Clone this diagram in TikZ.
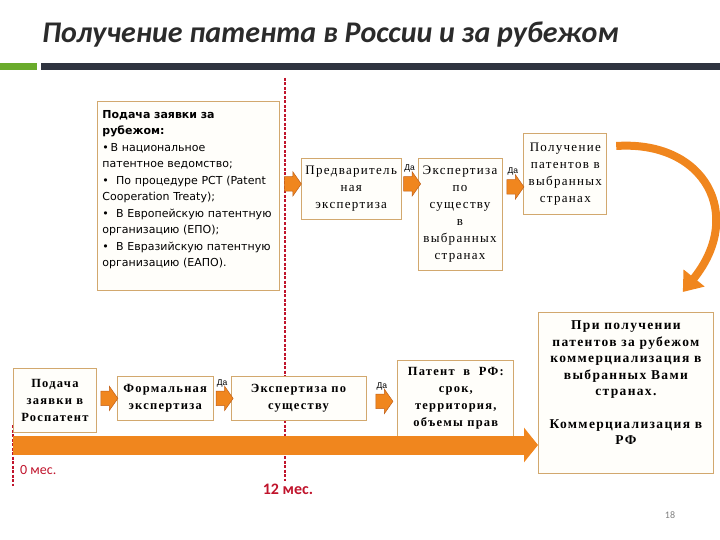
\documentclass[tikz,border=0pt]{standalone}
\usepackage{fontspec}
\setmainfont{Liberation Serif}
\newfontfamily\titlefont{Carlito}
\newfontfamily\boxsans{DejaVu Sans}
\newfontfamily\smallsans{Liberation Sans}
\newfontfamily\boxserif[LetterSpace=10]{Liberation Serif}
\usetikzlibrary{positioning,shapes.arrows,arrows.meta}

\definecolor{boxline}{HTML}{D2A86E}
\definecolor{boxfill}{HTML}{FFFEFA}
\definecolor{orangefill}{HTML}{F0861E}
\definecolor{orangeedge}{HTML}{C0601A}
\definecolor{markred}{HTML}{C0142C}
\definecolor{barblue}{HTML}{2F3440}
\definecolor{bargreen}{HTML}{6AAB2C}
\definecolor{titlegray}{HTML}{2B2B2B}

\begin{document}
\begin{tikzpicture}[
        x=1pt, y=-1pt,
        box/.style={rectangle, draw=boxline, line width=0.8pt, fill=boxfill, align=center, inner sep=2pt},
        stagebox/.style={box, font=\boxserif\fontsize{13}{17}\selectfont},
        boldbox/.style={box, font=\boxserif\fontsize{12.5}{17}\selectfont\bfseries},
        blockarrow/.style={single arrow, draw=orangeedge, line width=0.5pt, fill=orangefill, minimum height=17pt, inner xsep=0pt, inner ysep=7pt, single arrow head extend=5pt, single arrow tip angle=110},
        dalabel/.style={font=\smallsans\fontsize{8.5}{9}\selectfont, inner sep=0pt},
        month/.style={draw=markred, line width=1.5pt, dash pattern=on 3pt off 1.5pt},
        monthlabel/.style={text=markred, font=\titlefont\fontsize{14}{15}\selectfont, inner sep=0pt},
        timeline/.style={draw=orangefill, line width=19pt, -{Triangle[width=34pt, length=14pt]}},
        curvearrow/.style={draw=orangefill, line width=8pt, -{Triangle[width=26pt, length=18pt]}}
    ]
        \useasboundingbox (0,0) rectangle (720,540);

        % Header
        \node[anchor=west, text=titlegray, inner sep=0pt, font=\titlefont\fontsize{30}{32}\selectfont\bfseries\itshape] (title) at (42,35) {Получение патента в России и за рубежом};
        \fill[bargreen] (0,63) rectangle (37,70);
        \fill[barblue] (41,63) rectangle (720,70);

        % Time marks
        \draw[month] (285,78) -- (285,481);
        \draw[month] (13,425) -- (13,486);

        % Abroad row
        \node[box, anchor=north west, minimum width=182pt, minimum height=189pt, inner xsep=5pt, text width=172pt, align=left, font=\boxsans\fontsize{11}{16.5}\selectfont] (abroad) at (97,101) {
            \textbf{Подача заявки за}\\
            \textbf{рубежом:}\\
            •\,В национальное\\
            патентное ведомство;\\
            •\ \ По процедуре PCT (Patent\\
            Cooperation Treaty);\\
            •\ \ В Европейскую патентную\\
            организацию (ЕПО);\\
            •\ \ В Евразийскую патентную\\
            организацию (ЕАПО).\rule[-15pt]{0pt}{0pt}
        };
        \node[stagebox, minimum width=100pt, minimum height=61pt, right=21pt of abroad, yshift=7pt] (prelim) {Предваритель\\ная\\экспертиза};
        \node[stagebox, minimum width=84pt, minimum height=112pt, right=16pt of prelim.north east, anchor=north west] (substabroad) {Экспертиза\\по\\существу\\в\\выбранных\\странах};
        \node[stagebox, minimum width=83pt, minimum height=81pt, right=21pt of substabroad.north east, anchor=north west, yshift=25pt] (getabroad) {Получение\\патентов в\\выбранных\\странах};

        % Russia row
        \node[boldbox, anchor=north west, minimum width=83pt, minimum height=64pt] (rospatent) at (13,368) {Подача\\заявки в\\Роспатент};
        \node[boldbox, minimum width=96pt, minimum height=44pt, right=20pt of rospatent, yshift=2pt] (formal) {Формальная\\экспертиза};
        \node[boldbox, minimum width=135pt, minimum height=44pt, right=17pt of formal] (substrf) {Экспертиза по\\существу};
        \node[boldbox, minimum width=116pt, minimum height=76pt, right=31pt of substrf] (patentrf) {Патент\ \ в\ \ РФ:\\срок,\\территория,\\объемы прав};
        \node[boldbox, font=\boxserif\fontsize{13.5}{16.5}\selectfont\bfseries, anchor=north west, minimum width=175pt, minimum height=161pt] (commerce) at (538,312) {При получении\\патентов за рубежом\\коммерциализация в\\выбранных Вами\\странах.\\[16pt]Коммерциализация в\\РФ\rule[-20pt]{0pt}{0pt}};

        % Timeline
        \coordinate (start) at (13,445);
        \draw[timeline] (start) -- (start -| commerce.west);

        % Block arrows
        \path ([yshift=5pt]prelim.west -| abroad.east) -- ([yshift=5pt]prelim.west) node[blockarrow, midway] (a1) {};
        \path ([yshift=5pt]prelim.east) -- ([yshift=5pt]prelim.east -| substabroad.west) node[blockarrow, midway, label={[dalabel, label distance=4pt]above:Да}] (a2) {};
        \path ([yshift=2pt]prelim.east -| substabroad.east) -- ([yshift=2pt]prelim.east -| getabroad.west) node[blockarrow, midway, label={[dalabel, label distance=4pt]above:Да}] (a3) {};
        \path (formal.west -| rospatent.east) -- (formal.west) node[blockarrow, midway] (b1) {};
        \path (formal.east) -- (substrf.west) node[blockarrow, midway, label={[dalabel, label distance=4pt]above:Да}] (b2) {};
        \path ([yshift=-3pt]substrf.east) -- ([yshift=-3pt]patentrf.west) node[blockarrow, midway, label={[dalabel, label distance=4pt]above:Да}] (b3) {};

        % Curved arrow
        \draw[curvearrow] ([shift={(9,13)}]getabroad.north east) .. controls (705,140) and (745,215) .. ([shift={(-31,-20)}]commerce.north east);

        % Labels
        \node[monthlabel, anchor=west] (m0) at (20,470) {0 мес.};
        \node[monthlabel, font=\titlefont\fontsize{16}{17}\selectfont\bfseries] (m12) at (288,489) {12 мес.};
        \node[text=gray, font=\titlefont\fontsize{10}{10}\selectfont] (page) at (670,515) {18};
    \end{tikzpicture}
\end{document}
